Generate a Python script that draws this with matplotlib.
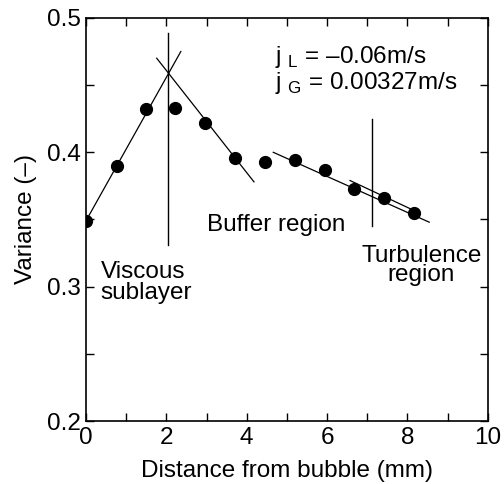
import numpy as np
import matplotlib
matplotlib.use("Agg")
import matplotlib.pyplot as plt

plt.rcParams['font.family'] = ['Liberation Sans', 'DejaVu Sans']
plt.rcParams['mathtext.fontset'] = 'custom'
plt.rcParams['mathtext.rm'] = 'Liberation Sans'

# measured variance vs distance
dist = [0.0, 0.76, 1.49, 2.22, 2.97, 3.71, 4.46, 5.20, 5.95, 6.68, 7.41, 8.17]
variance = [0.349, 0.390, 0.432, 0.433, 0.422, 0.396, 0.393, 0.394, 0.387, 0.373, 0.366, 0.355]

# fitted lines (x0, x1, y0, y1)
fit_viscous = [[0.0, 2.36], [0.349, 0.475]]
fit_buffer = [[1.76, 4.18], [0.470, 0.378]]
fit_turb = [[4.66, 8.54], [0.400, 0.348]]
fit_turb2 = [[6.57, 8.14], [0.379, 0.357]]

# region boundaries (x, ymin, ymax)
bound1 = [2.03, 0.331, 0.489]
bound2 = [7.11, 0.345, 0.425]

fs = 17.5
fig = plt.figure(figsize=(5.04, 4.84), dpi=100)
ax = fig.add_axes([0.1706, 0.130, 0.7974, 0.833])

for f in [fit_viscous, fit_buffer, fit_turb, fit_turb2]:
    ax.plot(f[0], f[1], color='black', lw=0.9)
for b in [bound1, bound2]:
    ax.plot([b[0], b[0]], [b[1], b[2]], color='black', lw=1.0)

ax.plot(dist, variance, 'o', color='black', ms=8.5, zorder=3)

ax.text(4.70, 0.471, r'j $_{\mathrm{L}}$ = –0.06m/s', fontsize=fs, va='center')
ax.text(4.70, 0.4515, r'j $_{\mathrm{G}}$ = 0.00327m/s', fontsize=fs, va='center')
ax.text(0.36, 0.303, 'Viscous\nsublayer', fontsize=fs, va='center', ha='left', linespacing=0.97)
ax.text(3.0, 0.346, 'Buffer region', fontsize=fs, va='center', ha='left')
ax.text(8.35, 0.316, 'Turbulence\nregion', fontsize=fs, va='center', ha='center', linespacing=0.82)

ax.set_xlim(0, 10)
ax.set_ylim(0.2, 0.5)
ax.set_xticks([0, 2, 4, 6, 8, 10])
ax.set_xticks(np.arange(1, 10, 2), minor=True)
ax.set_yticks([0.2, 0.3, 0.4, 0.5])
ax.set_yticks([0.25, 0.35, 0.45], minor=True)
ax.set_yticklabels(['0.2', '0.3', '0.4', '0.5'])
ax.tick_params(which='both', direction='in', top=True, right=True, length=6, width=1.0,
               labelsize=fs, pad=4)
for s in ax.spines.values():
    s.set_linewidth(1.2)

ax.set_xlabel('Distance from bubble (mm)', fontsize=fs, labelpad=8)
ax.set_ylabel('Variance (–)', fontsize=fs, labelpad=7)

fig.savefig('out.png', dpi=100)
